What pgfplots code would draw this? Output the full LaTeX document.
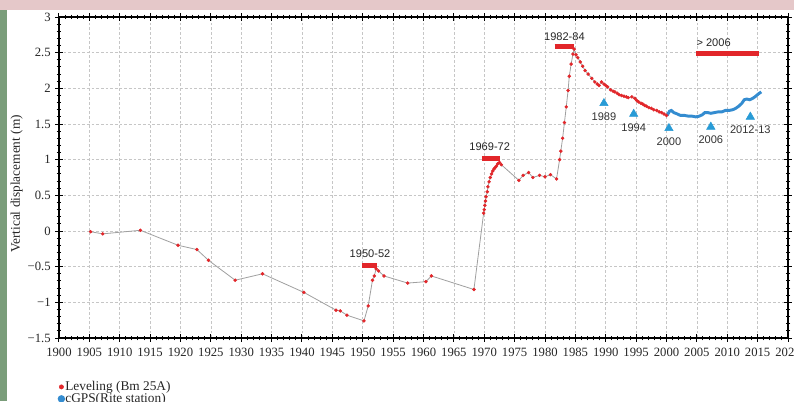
\documentclass[border=0pt]{standalone}
\usepackage{pgfplots}
\pgfplotsset{compat=1.18}
\usepackage{fontspec}
\setmainfont{Liberation Serif}
\newfontfamily\arial{Liberation Sans}
\definecolor{levred}{RGB}{226,38,42}
\definecolor{gpsblue}{RGB}{52,140,208}
\definecolor{triblue}{RGB}{40,155,214}
\definecolor{pinkc}{RGB}{229,200,201}
\definecolor{greenc}{RGB}{122,157,122}
\definecolor{lgray}{RGB}{160,160,160}

\pgfplotstableread{
x y
1905.2 -0.01
1907.2 -0.04
1913.4 0.01
1919.6 -0.20
1922.7 -0.26
1924.6 -0.41
1929.0 -0.69
1933.5 -0.60
1940.3 -0.86
1945.6 -1.11
1946.3 -1.12
1947.4 -1.18
1950.2 -1.26
1950.9 -1.05
1951.6 -0.69
1951.9 -0.63
1952.2 -0.53
1952.6 -0.56
1953.5 -0.63
1957.4 -0.73
1960.4 -0.71
1961.3 -0.63
1968.3 -0.82
1969.9 0.25
1970.0 0.30
1970.1 0.36
1970.2 0.42
1970.3 0.48
1970.5 0.55
1970.6 0.62
1970.8 0.69
1971.0 0.75
1971.2 0.80
1971.4 0.84
1971.6 0.87
1971.8 0.89
1972.0 0.91
1972.2 0.94
1972.5 0.96
1972.8 0.93
1975.7 0.71
1976.4 0.78
1977.3 0.82
1978.0 0.75
1979.1 0.78
1980.0 0.76
1980.9 0.79
1981.9 0.73
1982.4 1.00
1982.6 1.12
1982.9 1.30
1983.2 1.52
1983.5 1.74
1983.8 1.97
1984.0 2.17
1984.3 2.34
1984.6 2.48
1984.8 2.55
1985.1 2.47
1985.4 2.43
1985.8 2.37
1986.2 2.31
1986.6 2.25
1987.1 2.20
1987.7 2.14
1988.2 2.09
1988.6 2.06
1988.9 2.04
1989.3 2.09
1989.7 2.06
1990.0 2.04
1990.3 2.02
1990.8 1.98
1991.2 1.96
1991.5 1.95
1991.9 1.93
1992.2 1.91
1992.6 1.90
1993.0 1.89
1993.4 1.88
1993.7 1.87
1994.3 1.88
1994.8 1.86
1995.1 1.83
1995.4 1.81
1995.8 1.79
1996.1 1.78
1996.4 1.76
1996.7 1.75
1997.1 1.73
1997.5 1.72
1997.9 1.70
1998.4 1.69
1998.8 1.67
1999.2 1.66
1999.6 1.64
2000.0 1.62
}\leveling

\pgfplotstableread{
x y
2000.1 1.62
2000.5 1.68
2000.8 1.69
2001.2 1.66
2001.8 1.64
2002.3 1.62
2003.0 1.62
2003.6 1.61
2004.2 1.61
2004.8 1.60
2005.4 1.61
2005.9 1.63
2006.3 1.66
2006.8 1.66
2007.3 1.65
2007.9 1.66
2008.5 1.67
2009.1 1.67
2009.7 1.69
2010.3 1.69
2010.9 1.70
2011.4 1.72
2011.9 1.75
2012.4 1.79
2012.8 1.84
2013.2 1.85
2013.7 1.84
2014.2 1.86
2014.7 1.89
2015.1 1.92
2015.6 1.95
}\cgps

\begin{document}
\begin{tikzpicture}[x=0.75pt,y=0.75pt]
\useasboundingbox (0,0) rectangle (794,401);
\clip (0,0) rectangle (794,401);
\fill[white] (0,0) rectangle (794,401);
\fill[pinkc] (0,391) rectangle (794,401);
\fill[greenc] (0,0) rectangle (7,391);
\begin{axis}[
  at={(44.25pt,47.25pt)}, anchor=south west,
  scale only axis, width=546.75pt, height=240.75pt,
  xmin=1900, xmax=2020, ymin=-1.5, ymax=3,
  xtick={1900,1905,...,2020}, minor x tick num=4,
  ytick={-1.5,-1,-0.5,0,0.5,1,1.5,2,2.5,3},
  yticklabels={−1.5,−1,−0.5,0,0.5,1,1.5,2,2.5,3},
  minor y tick num=4,
  /pgf/number format/assume math mode=true,
  /pgf/number format/1000 sep={},
  tick label style={font=\fontsize{9.5}{11}\selectfont, black!85},
  xticklabel style={yshift=-1pt},
  grid=major,
  major grid style={gray!45, dash pattern=on 2pt off 1.5pt, line width=0.45pt},
  tick align=center,
  major tick length=5.5pt, minor tick length=3.5pt,
  axis line style={line width=1.2pt},
  every tick/.style={black, line width=0.75pt},
  ylabel={Vertical displacement (m)},
  every axis y label/.style={at={(axis description cs:-0.058,0.48)}, rotate=90, anchor=center, font=\fontsize{10}{12}\selectfont, black!85},
  legend style={at={(rel axis cs:-0.002,-0.133)}, anchor=north west, draw=none, fill=none,
    font=\fontsize{10}{10.5}\selectfont, inner sep=0pt, row sep=0pt,
    nodes={inner sep=0.25pt}, text=black!85},
  legend cell align=left,
]
\addplot[lgray, line width=0.6pt, forget plot] table[x=x,y=y] {\leveling};
\addplot[only marks, mark=*, mark size=1.1pt, color=levred,
  legend image code/.code={\fill[levred] (0.1em,0) circle (1.6pt);}] table[x=x,y=y] {\leveling};
\addlegendentry{Leveling (Bm 25A)}
\addplot[gpsblue, line width=2.2pt, no marks,
  legend image code/.code={\fill[gpsblue] (0.1em,0) circle (1.6pt);}] table[x=x,y=y] {\cgps};
\addlegendentry{cGPS(Rite station)}
% red period bars
\addplot[levred, line width=3.6pt, forget plot] coordinates {(1949.9,-0.48) (1952.4,-0.48)};
\addplot[levred, line width=3.6pt, forget plot] coordinates {(1969.6,1.02) (1972.6,1.02)};
\addplot[levred, line width=3.6pt, forget plot] coordinates {(1981.6,2.59) (1984.8,2.59)};
\addplot[levred, line width=3.6pt, forget plot] coordinates {(2004.9,2.49) (2015.3,2.49)};
% triangles
\addplot[only marks, mark=triangle*, mark size=3.6pt, color=triblue, forget plot,
  point meta=explicit symbolic,
  nodes near coords, every node near coord/.style={anchor=north, yshift=-3.5pt, black!80, font=\arial\fontsize{8.3}{9}\selectfont}]
  table[x=x, y=y, meta=m] {
x y m
1989.7 1.79 1989
1994.6 1.64 1994
2000.4 1.44 2000
2007.3 1.46 2006
2013.8 1.60 2012-13
};
\node[font=\arial\fontsize{8.3}{9}\selectfont, black!85] at (axis cs:1951.2,-0.32) {1950-52};
\node[font=\arial\fontsize{8.3}{9}\selectfont, black!85] at (axis cs:1970.9,1.18) {1969-72};
\node[font=\arial\fontsize{8.3}{9}\selectfont, black!85] at (axis cs:1983.2,2.73) {1982-84};
\node[font=\arial\fontsize{8.3}{9}\selectfont, black!85, anchor=west, inner sep=0pt] at (axis cs:2004.9,2.64) {> 2006};
\end{axis}
\end{tikzpicture}
\end{document}
